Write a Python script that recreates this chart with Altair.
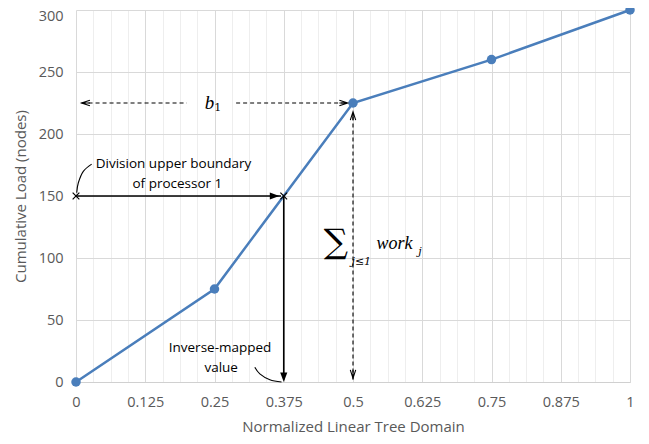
import altair as alt
import pandas as pd

# ---- data ----
domain_x = [0, 0.25, 0.5, 0.75, 1]
cum_load = [0, 75, 225, 260, 300]

x_grid_values = [0, 0.03125, 0.0625, 0.09375, 0.125, 0.15625, 0.1875, 0.21875, 0.25,
                 0.28125, 0.3125, 0.34375, 0.375, 0.40625, 0.4375, 0.46875, 0.5,
                 0.53125, 0.5625, 0.59375, 0.625, 0.65625, 0.6875, 0.71875, 0.75,
                 0.78125, 0.8125, 0.84375, 0.875, 0.90625, 0.9375, 0.96875, 1]
y_tick_values = [0, 50, 100, 150, 200, 250, 300]

cross_x = [0, 0.375]
cross_y = [150, 150]

solid_x1 = [0, 0.375]
solid_x2 = [0.37, 0.375]
solid_y1 = [150, 150]
solid_y2 = [150, 2]
solid_head_x = [0.367, 0.375]
solid_head_y = [150, 0]
solid_head_angle = [0, 90]

dash_x1 = [0.5, 0.01, 0.289]
dash_x2 = [0.5, 0.2, 0.485]
dash_y1 = [2, 225, 225]
dash_y2 = [216, 225, 225]
dash_head_x = [0.5, 0.5, 0.01, 0.4905]
dash_head_y = [218, 3, 225, 225]
dash_head_angle = [270, 90, 180, 0]

curve1_x = [0.0283, 0.0132, 0.0041, 0.0013]
curve1_y = [175.7, 169.9, 160.5, 152.6]
curve2_x = [0.3228, 0.3318, 0.3499, 0.371]
curve2_y = [11.9, 6.6, 1.8, 0]

label_lines = ["Division upper boundary", "of processor 1", "Inverse-mapped", "value"]
label_x = [0.176, 0.183, 0.26, 0.262]
label_y = [175.7, 159.8, 27.5, 11.6]

FONT = "Open Sans"
GRAY = "#595959"
BLUE = "#4a7ebb"

xscale = alt.Scale(domain=[0, 1], nice=False, zero=False)
yscale = alt.Scale(domain=[0, 300], nice=False)

xaxis = alt.Axis(
    values=x_grid_values,
    labelExpr="abs(datum.value*8 - round(datum.value*8)) < 1e-6 ? toString(datum.value) : ''",
    gridColor={"condition": {"test": "abs(datum.value*8 - round(datum.value*8)) < 1e-6",
                             "value": "#d9d9d9"}, "value": "#eeeeee"},
    labelOverlap=False, labelFlush=False, ticks=False,
    domainColor="#d0d0d0", domainWidth=1.2,
    labelPadding=13, titlePadding=11,
)
yaxis = alt.Axis(values=y_tick_values, gridColor="#d9d9d9", ticks=False, domain=False,
                 labelPadding=13, titlePadding=10,
                 labelOffset={"condition": {"test": "datum.value == 300", "value": 6},
                              "value": 0})

XT = "Normalized Linear Tree Domain"
YT = "Cumulative Load (nodes)"


def X(f):
    return alt.X(f, type="quantitative", scale=xscale, axis=xaxis, title=XT)


def Y(f):
    return alt.Y(f, type="quantitative", scale=yscale, axis=yaxis, title=YT)


def txt(x, y, t, **kw):
    return alt.Chart(pd.DataFrame({"x": x, "y": y, "t": t})).mark_text(
        color="black", align="center", baseline="middle", **kw).encode(
        x=X("x"), y=Y("y"), text="t:N")


series = pd.DataFrame({"x": domain_x, "y": cum_load})
line = alt.Chart(series).mark_line(color=BLUE, strokeWidth=2.5).encode(x=X("x"), y=Y("y"))
pts = alt.Chart(series).mark_point(filled=True, color=BLUE, size=90, opacity=1).encode(
    x=X("x"), y=Y("y"))

solid = alt.Chart(pd.DataFrame({"x": solid_x1, "x2": solid_x2, "y": solid_y1, "y2": solid_y2})
                  ).mark_rule(color="black", strokeWidth=1.6).encode(
    x=X("x"), x2="x2", y=Y("y"), y2="y2")
solid_heads = alt.Chart(pd.DataFrame({"x": solid_head_x, "y": solid_head_y, "a": solid_head_angle})
                        ).mark_point(shape="M0,0L-2,-0.75L-2,0.75Z", filled=True, color="black",
                                     size=90, opacity=1).encode(
    x=X("x"), y=Y("y"), angle=alt.Angle("a:Q", scale=None))

dashed = alt.Chart(pd.DataFrame({"x": dash_x1, "x2": dash_x2, "y": dash_y1, "y2": dash_y2})
                   ).mark_rule(color="black", strokeWidth=1.1, strokeDash=[4, 3]).encode(
    x=X("x"), x2="x2", y=Y("y"), y2="y2")
dash_heads = alt.Chart(pd.DataFrame({"x": dash_head_x, "y": dash_head_y, "a": dash_head_angle})
                       ).mark_point(shape="M-2,-0.65L0,0L-2,0.65M0,0L-2,0", filled=False,
                                    color="black", strokeWidth=1.1, size=70, opacity=1).encode(
    x=X("x"), y=Y("y"), angle=alt.Angle("a:Q", scale=None))

crosses = alt.Chart(pd.DataFrame({"x": cross_x, "y": cross_y})).mark_point(
    shape="M-1,-1L1,1M-1,1L1,-1", filled=False, color="black", strokeWidth=1.2,
    size=45, opacity=1).encode(x=X("x"), y=Y("y"))

c1 = pd.DataFrame({"x": curve1_x, "y": curve1_y, "o": list(range(len(curve1_x)))})
c2 = pd.DataFrame({"x": curve2_x, "y": curve2_y, "o": list(range(len(curve2_x)))})
curve1 = alt.Chart(c1).mark_line(color="black", strokeWidth=1.1, interpolate="cardinal").encode(
    x=X("x"), y=Y("y"), order="o:Q")
curve2 = alt.Chart(c2).mark_line(color="black", strokeWidth=1.1, interpolate="cardinal").encode(
    x=X("x"), y=Y("y"), order="o:Q")

labels = txt(label_x, label_y, label_lines, font=FONT, fontSize=13.5)

# math annotations
b_txt = txt([0.241], [225], ["b"], font="Liberation Serif", fontStyle="italic", fontSize=19)
b_sub = txt([0.256], [221], ["1"], font="DejaVu Serif", fontSize=11)
sigma = txt([0.469], [112], ["∑"], font="DejaVu Serif", fontSize=34)
sig_sub = txt([0.515], [97], ["j≤1"], font="DejaVu Serif", fontStyle="italic", fontSize=11)
work = txt([0.575], [111], ["work"], font="Liberation Serif", fontStyle="italic", fontSize=18)
work_sub = txt([0.621], [105], ["j"], font="DejaVu Serif", fontStyle="italic", fontSize=11)

chart = alt.layer(
    line, solid, dashed, curve1, curve2, pts, solid_heads, dash_heads, crosses,
    labels, b_txt, b_sub, sigma, sig_sub, work, work_sub
).properties(
    width=554, height=372,
    autosize=alt.AutoSizeParams(type="none"),
    padding={"left": 68, "top": 2, "right": 10, "bottom": 54},
).configure_view(stroke=None).configure_axis(
    labelFont=FONT, labelFontSize=14.5, labelColor=GRAY,
    titleFont=FONT, titleFontSize=15, titleColor=GRAY, titleFontWeight="normal",
    gridWidth=1,
)

chart.save("out.html", embed_options={"renderer": "svg", "actions": False})
